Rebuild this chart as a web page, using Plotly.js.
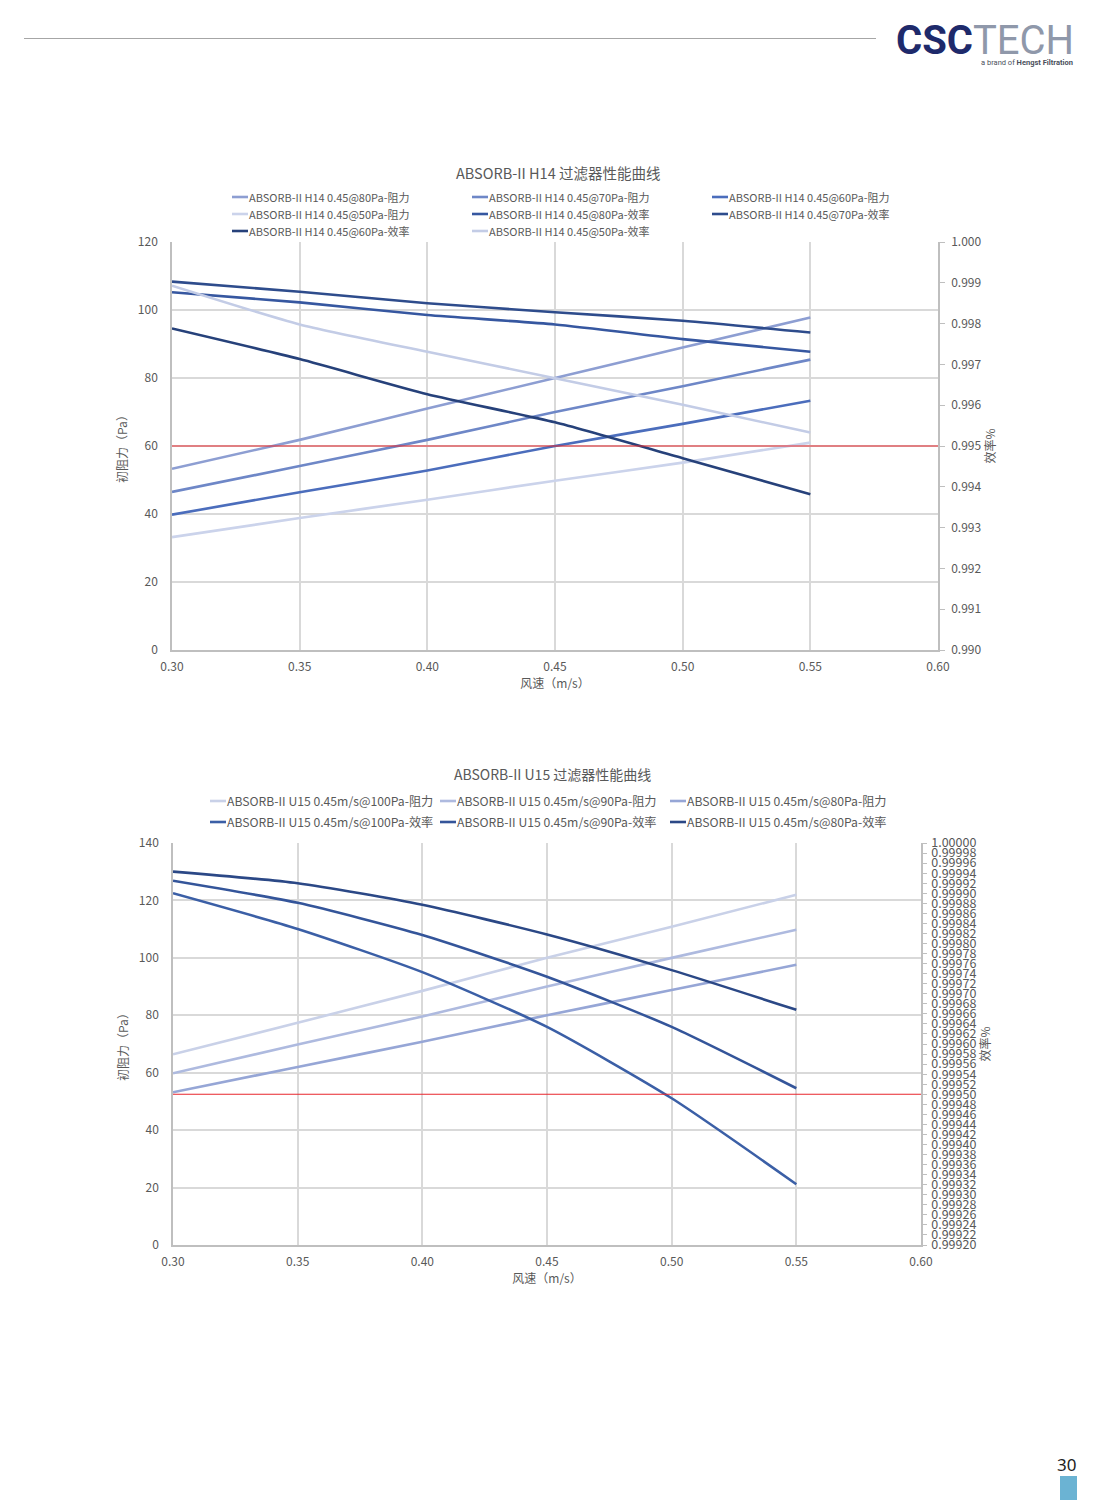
<!DOCTYPE html>
<html>
<head>
<meta charset="utf-8">
<script src="https://cdn.plot.ly/plotly-3.0.1.min.js"></script>
<style>
  html, body { margin: 0; padding: 0; background: #ffffff; }
  #page { width: 1106px; height: 1500px; }
</style>
</head>
<body>
<div id="page"></div>
<script>
// ---------- DATA ----------
const speed = [0.30, 0.35, 0.40, 0.45, 0.50, 0.55];

// Chart 1: ABSORB-II H14
const h14Names = [
  "ABSORB-II H14 0.45@80Pa-阻力", "ABSORB-II H14 0.45@70Pa-阻力", "ABSORB-II H14 0.45@60Pa-阻力",
  "ABSORB-II H14 0.45@50Pa-阻力", "ABSORB-II H14 0.45@80Pa-效率", "ABSORB-II H14 0.45@70Pa-效率",
  "ABSORB-II H14 0.45@60Pa-效率", "ABSORB-II H14 0.45@50Pa-效率"
];
const h14Res80 = [53.3, 61.8, 71.0, 80.0, 89.0, 97.8];
const h14Res70 = [46.5, 54.1, 61.8, 70.0, 77.6, 85.4];
const h14Res60 = [39.8, 46.4, 52.8, 60.0, 66.5, 73.3];
const h14Res50 = [33.2, 38.8, 44.2, 49.8, 55.1, 61.0];
const h14Eff80 = [0.99877, 0.99852, 0.99821, 0.99798, 0.99762, 0.99731];
const h14Eff70 = [0.99903, 0.99878, 0.99850, 0.99828, 0.99807, 0.99778];
const h14Eff60 = [0.99788, 0.99713, 0.99627, 0.99558, 0.99470, 0.99382];
const h14Eff50 = [0.99893, 0.99798, 0.99731, 0.99666, 0.99601, 0.99533];
const h14Threshold = 60;   // red reference line (left axis)

// Chart 2: ABSORB-II U15
const u15Names = [
  "ABSORB-II U15 0.45m/s@100Pa-阻力", "ABSORB-II U15 0.45m/s@90Pa-阻力", "ABSORB-II U15 0.45m/s@80Pa-阻力",
  "ABSORB-II U15 0.45m/s@100Pa-效率", "ABSORB-II U15 0.45m/s@90Pa-效率", "ABSORB-II U15 0.45m/s@80Pa-效率"
];
const u15Res100 = [66.4, 77.4, 88.5, 100.0, 110.8, 122.0];
const u15Res90  = [59.8, 69.8, 79.6, 90.0, 100.0, 109.8];
const u15Res80  = [53.2, 62.0, 70.8, 80.0, 88.8, 97.6];
const u15Eff100 = [0.999900, 0.999829, 0.999743, 0.999634, 0.999492, 0.999321];
const u15Eff90  = [0.999925, 0.999881, 0.999817, 0.999734, 0.999634, 0.999512];
const u15Eff80  = [0.999943, 0.999920, 0.999877, 0.999818, 0.999747, 0.999668];
const u15Threshold = 0.9995; // red reference line (right axis)

const chartTitles = ["ABSORB-II H14 过滤器性能曲线", "ABSORB-II U15 过滤器性能曲线"];
const yTitleLeft = "初阻力（Pa）";
const yTitleRight = "效率%";
const xTitle = "风速（m/s）";

// ---------- STYLE ----------
const W = 1106, H = 1500;
const FONT = "Noto Sans CJK SC, Noto Sans, sans-serif";
const TXT = "#595959";
const GRID = "#D9D9D9";
const AXL = "#BFBFBF";
const px = v => v / W;
const py = v => 1 - v / H;

const h14Colors = ["#8D9ED2", "#6E87C7", "#4B6DBC", "#CBD3EB", "#3657A0", "#2E4C8C", "#26417A", "#C3CCE6"];
const u15Colors = ["#C9D1E8", "#AEBADF", "#96A6D6", "#3B5FA6", "#34559A", "#2B4886"];

function line(x, y, name, color, xa, ya) {
  return {
    type: "scatter", mode: "lines", x: x, y: y, name: name,
    xaxis: xa, yaxis: ya, showlegend: false,
    line: { color: color, width: 2.6, shape: "spline", smoothing: 0.6 }
  };
}

const h14Series = [h14Res80, h14Res70, h14Res60, h14Res50, h14Eff80, h14Eff70, h14Eff60, h14Eff50];
const u15Series = [u15Res100, u15Res90, u15Res80, u15Eff100, u15Eff90, u15Eff80];

const traces = [];
h14Series.forEach((s, i) => traces.push(line(speed, s, h14Names[i], h14Colors[i], "x", i < 4 ? "y" : "y2")));
u15Series.forEach((s, i) => traces.push(line(speed, s, u15Names[i], u15Colors[i], "x2", i < 3 ? "y3" : "y4")));

const tickFont = { family: FONT, size: 12, color: TXT };
const titleFont = { family: FONT, size: 12, color: TXT };

const shapes = [
  // header rule
  { type: "line", xref: "paper", yref: "paper", x0: px(24), x1: px(876), y0: py(38.5), y1: py(38.5),
    line: { color: "#A6A6A6", width: 1 } },
  // red reference lines
  { type: "line", xref: "x domain", yref: "y", x0: 0, x1: 1, y0: h14Threshold, y1: h14Threshold,
    line: { color: "#E8262C", width: 1.2 } },
  { type: "line", xref: "x2 domain", yref: "y4", x0: 0, x1: 1, y0: u15Threshold, y1: u15Threshold,
    line: { color: "#E8262C", width: 1.2 } },
  // page tab
  { type: "rect", xref: "paper", yref: "paper", x0: px(1060), x1: px(1077), y0: py(1500), y1: py(1476),
    fillcolor: "#6BB3D3", line: { width: 0 } }
];

const annotations = [
  { text: chartTitles[0], xref: "paper", yref: "paper", x: px(558), y: py(172), xanchor: "center", yanchor: "middle",
    showarrow: false, font: { family: FONT, size: 14.5, color: TXT } },
  { text: chartTitles[1], xref: "paper", yref: "paper", x: px(552), y: py(774), xanchor: "center", yanchor: "middle",
    showarrow: false, font: { family: FONT, size: 14, color: TXT } },
  { text: "<b><span style='color:#1E2A6B'>CSC</span></b><span style='color:#8F98AA'>TECH</span>",
    xref: "paper", yref: "paper", x: px(1076), y: py(41), xanchor: "right", yanchor: "middle",
    showarrow: false, font: { family: "Roboto, DejaVu Sans, sans-serif", size: 40 } },
  { text: "a brand of <b>Hengst Filtration</b>", xref: "paper", yref: "paper", x: px(1075), y: py(62),
    xanchor: "right", yanchor: "middle", showarrow: false,
    font: { family: "Roboto, sans-serif", size: 7.5, color: "#4A4F5C" } },
  { text: "30", xref: "paper", yref: "paper", x: px(1078), y: py(1464), xanchor: "right", yanchor: "middle",
    showarrow: false, font: { family: "Noto Sans, sans-serif", size: 17, color: "#222222" } }
];

// Legends (Excel-style, 3 columns), built from the series names and colours
function addLegend(names, colors, colX, rowY, fontSize) {
  names.forEach((n, i) => {
    const cx = colX[i % 3], cy = rowY[Math.floor(i / 3)];
    shapes.push({ type: "line", xref: "paper", yref: "paper", x0: px(cx), x1: px(cx + 16), y0: py(cy), y1: py(cy),
      line: { color: colors[i], width: 2.6 } });
    annotations.push({ text: n, xref: "paper", yref: "paper", x: px(cx + 16), y: py(cy), xanchor: "left", yanchor: "middle",
      showarrow: false, borderpad: 0, font: { family: FONT, size: fontSize, color: TXT } });
  });
}
addLegend(h14Names, h14Colors, [232, 472, 712], [197, 214, 231], 11);
addLegend(u15Names, u15Colors, [210, 440, 670], [801, 822], 12.2);

const layout = {
  width: W, height: H,
  margin: { l: 0, r: 0, t: 0, b: 0 },
  paper_bgcolor: "#ffffff", plot_bgcolor: "rgba(0,0,0,0)",
  font: { family: FONT, color: TXT },
  showlegend: false,
  // Chart 1 axes
  xaxis: {
    domain: [px(172), px(938)], anchor: "y", range: [0.30, 0.60], dtick: 0.05, tick0: 0.30,
    tickformat: ".2f", showgrid: true, gridcolor: GRID, gridwidth: 1.5,
    showline: true, linecolor: AXL, linewidth: 1.5, zeroline: false,
    tickfont: tickFont, ticklabelstandoff: 5,
    title: { text: xTitle, font: titleFont, standoff: 2 }
  },
  yaxis: {
    domain: [py(650), py(242)], anchor: "x", range: [0, 120], dtick: 20,
    showgrid: true, gridcolor: GRID, gridwidth: 1.5, showline: true, linecolor: AXL, linewidth: 1.5,
    zeroline: false, tickfont: tickFont, ticklabelstandoff: 10,
    title: { text: yTitleLeft, font: titleFont, standoff: 8 }
  },
  yaxis2: {
    overlaying: "y", side: "right", anchor: "x", range: [0.990, 1.000], dtick: 0.001, tick0: 0.990,
    tickformat: ".3f", showgrid: false, showline: true, linecolor: AXL, linewidth: 1.5, zeroline: false,
    ticks: "outside", ticklen: 5, tickcolor: AXL, tickfont: tickFont, ticklabelstandoff: 4,
    title: { text: yTitleRight, font: titleFont, standoff: 0 }
  },
  // Chart 2 axes
  xaxis2: {
    domain: [px(173), px(921)], anchor: "y3", range: [0.30, 0.60], dtick: 0.05, tick0: 0.30,
    tickformat: ".2f", showgrid: true, gridcolor: GRID, gridwidth: 1.5,
    showline: true, linecolor: AXL, linewidth: 1.5, zeroline: false,
    tickfont: tickFont, ticklabelstandoff: 5,
    title: { text: xTitle, font: titleFont, standoff: 2 }
  },
  yaxis3: {
    domain: [py(1245), py(843)], anchor: "x2", range: [0, 140], dtick: 20,
    showgrid: true, gridcolor: GRID, gridwidth: 1.5, showline: true, linecolor: AXL, linewidth: 1.5,
    zeroline: false, tickfont: tickFont, ticklabelstandoff: 10,
    title: { text: yTitleLeft, font: titleFont, standoff: 8 }
  },
  yaxis4: {
    overlaying: "y3", side: "right", anchor: "x2", range: [0.99920, 1.00000], dtick: 0.00002, tick0: 0.99920,
    tickformat: ".5f", showgrid: false, showline: true, linecolor: AXL, linewidth: 1.5, zeroline: false,
    ticks: "outside", ticklen: 4, tickcolor: AXL, tickfont: { family: FONT, size: 12.5, color: TXT },
    ticklabelstandoff: 2,
    title: { text: yTitleRight, font: titleFont, standoff: 0 }
  },
  shapes: shapes,
  annotations: annotations
};

Plotly.newPlot("page", traces, layout, { displayModeBar: false });
</script>
</body>
</html>
